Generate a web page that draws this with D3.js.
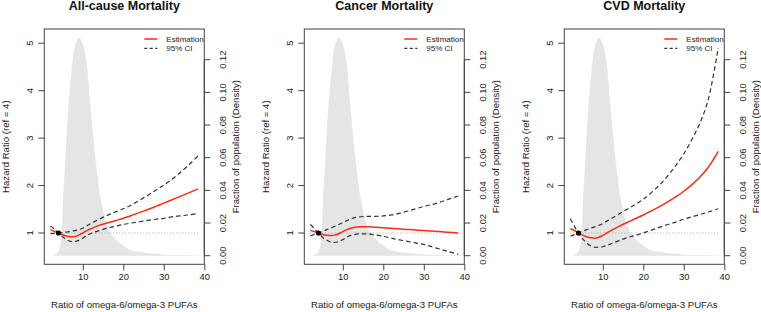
<!DOCTYPE html>
<html>
<head>
<meta charset="utf-8">
<script src="https://cdn.jsdelivr.net/npm/d3@7"></script>
<style>
  html, body { margin: 0; padding: 0; background: #fff; }
  svg { display: block; }
</style>
</head>
<body>
<svg id="chart"></svg>
<script>
// x positions (omega-6/omega-3 ratio) at which curves were read
const ratioX = [2, 3, 4, 5, 6, 7, 8, 9, 10, 11, 12, 14, 16, 18, 20, 22, 25, 28, 30, 32, 34, 36, 38.5];

const panelTitles = ["All-cause Mortality", "Cancer Mortality", "CVD Mortality"];

// All-cause
const allEst   = [1.065, 1.035, 1.0, 0.965, 0.935, 0.92, 0.925, 0.955, 1.0, 1.05, 1.09, 1.16, 1.21, 1.26, 1.31, 1.37, 1.46, 1.56, 1.63, 1.70, 1.77, 1.84, 1.93];
const allUpper = [0.985, 0.99, 1.0, 1.01, 1.02, 1.035, 1.05, 1.07, 1.10, 1.15, 1.20, 1.29, 1.37, 1.44, 1.51, 1.59, 1.74, 1.90, 2.01, 2.13, 2.27, 2.42, 2.63];
const allLower = [1.15, 1.08, 1.0, 0.92, 0.86, 0.825, 0.82, 0.845, 0.89, 0.95, 0.99, 1.05, 1.10, 1.14, 1.18, 1.21, 1.25, 1.29, 1.31, 1.34, 1.36, 1.38, 1.41];

// Cancer
const canEst   = [1.055, 1.03, 1.0, 0.97, 0.95, 0.945, 0.955, 0.985, 1.03, 1.07, 1.10, 1.13, 1.13, 1.12, 1.11, 1.10, 1.08, 1.065, 1.05, 1.04, 1.03, 1.015, 1.0];
const canUpper = [0.94, 0.97, 1.0, 1.035, 1.07, 1.10, 1.14, 1.18, 1.22, 1.26, 1.30, 1.34, 1.35, 1.35, 1.36, 1.38, 1.44, 1.51, 1.56, 1.60, 1.65, 1.71, 1.78];
const canLower = [1.18, 1.09, 1.0, 0.91, 0.85, 0.81, 0.80, 0.82, 0.86, 0.91, 0.95, 0.98, 0.98, 0.96, 0.93, 0.89, 0.84, 0.79, 0.76, 0.71, 0.66, 0.61, 0.55];

// CVD
const cvdEst   = [1.09, 1.05, 1.0, 0.955, 0.92, 0.90, 0.89, 0.91, 0.95, 1.0, 1.05, 1.14, 1.22, 1.30, 1.38, 1.465, 1.605, 1.76, 1.88, 2.02, 2.18, 2.38, 2.72];
const cvdUpper = [0.93, 0.965, 1.0, 1.035, 1.07, 1.10, 1.13, 1.16, 1.20, 1.25, 1.30, 1.40, 1.50, 1.60, 1.71, 1.85, 2.10, 2.42, 2.67, 2.97, 3.32, 3.80, 4.90];
const cvdLower = [1.30, 1.14, 1.0, 0.88, 0.79, 0.73, 0.70, 0.70, 0.71, 0.74, 0.77, 0.84, 0.90, 0.95, 1.00, 1.06, 1.15, 1.23, 1.29, 1.34, 1.39, 1.44, 1.51];

// population density of the ratio (same in every panel)
const densX = [2, 3, 4, 4.8, 5.1, 5.6, 6.4, 7.3, 8.1, 9.1, 10.1, 11, 11.8, 12.6, 13.4, 14.25, 15.5, 16.7, 18.4, 20, 21.7, 24, 26.6, 30, 34, 38.5];
const densY = [0.0, 0.0005, 0.0025, 0.015, 0.034, 0.0555, 0.090, 0.1147, 0.129, 0.1335, 0.129, 0.1168, 0.094, 0.0719, 0.0535, 0.0372, 0.0229, 0.0147, 0.0095, 0.0062, 0.0035, 0.0022, 0.0015, 0.0008, 0.0004, 0.0002];

const xTicks = [10, 20, 30, 40];
const hrTicks = [1, 2, 3, 4, 5];
const densTicks = [0, 0.02, 0.04, 0.06, 0.08, 0.10, 0.12];
const refX = 4, refHR = 1;

const series = [
  { est: allEst, upper: allUpper, lower: allLower },
  { est: canEst, upper: canUpper, lower: canLower },
  { est: cvdEst, upper: cvdUpper, lower: cvdLower }
];

const W = 761, H = 312;
const FONT = "'Liberation Sans', Arial, Helvetica, sans-serif";
const TXT = "#222";
const AX = "#444";

const svg = d3.select("#chart").attr("width", W).attr("height", H);
svg.append("rect").attr("width", W).attr("height", H).attr("fill", "#fff");

const boxW = 160, boxTop = 29, boxBot = 264.3;

series.forEach((s, i) => {
  const left = 44.3 + 260 * i;
  const right = left + boxW;

  const x = d3.scaleLinear().domain([0.5, 40]).range([left, right]);
  const y = d3.scaleLinear().domain([0.34, 5.30]).range([boxBot, boxTop]);
  const yD = d3.scaleLinear().domain([0, 0.12]).range([255.7, 59.7]);

  const g = svg.append("g");

  // density
  const dens = densX.map((v, k) => ({ x: v, d: densY[k] }));
  g.append("path")
    .datum(dens)
    .attr("fill", "#e5e5e5")
    .attr("d", d3.area()
      .x(d => x(d.x))
      .y0(yD(0))
      .y1(d => yD(d.d))
      .curve(d3.curveCatmullRom.alpha(0.5)));

  // reference line
  g.append("line")
    .attr("x1", x(ratioX[0])).attr("x2", x(ratioX[ratioX.length - 1]))
    .attr("y1", y(refHR)).attr("y2", y(refHR))
    .attr("stroke", "#aaa").attr("stroke-width", 1.2)
    .attr("stroke-dasharray", "1,2");

  const line = d3.line()
    .x(d => x(d[0])).y(d => y(d[1]))
    .curve(d3.curveCatmullRom.alpha(0.5));

  [s.upper, s.lower].forEach(arr => {
    g.append("path")
      .datum(ratioX.map((v, k) => [v, arr[k]]))
      .attr("fill", "none")
      .attr("stroke", "#333").attr("stroke-width", 1.2)
      .attr("stroke-dasharray", "4.5,3")
      .attr("d", line);
  });

  g.append("path")
    .datum(ratioX.map((v, k) => [v, s.est[k]]))
    .attr("fill", "none")
    .attr("stroke", "#ff2a12").attr("stroke-width", 1.5)
    .attr("d", line);

  g.append("circle")
    .attr("cx", x(refX)).attr("cy", y(refHR)).attr("r", 2.6)
    .attr("fill", "#000");

  // box
  g.append("rect")
    .attr("x", left).attr("y", boxTop)
    .attr("width", boxW).attr("height", boxBot - boxTop)
    .attr("fill", "none").attr("stroke", AX).attr("stroke-width", 1);

  // bottom axis
  g.append("g")
    .attr("transform", `translate(0,${boxBot})`)
    .call(d3.axisBottom(x).tickValues(xTicks).tickSize(6).tickPadding(3).tickFormat(d3.format("d")))
    .call(ax => {
      ax.select(".domain").remove();
      ax.selectAll(".tick line").attr("stroke", AX);
      ax.selectAll(".tick text").attr("fill", TXT).style("font-size", "9.4px").style("font-family", FONT);
    });

  // left axis (rotated labels)
  const la = g.append("g");
  la.selectAll("line").data(hrTicks).join("line")
    .attr("x1", left - 6).attr("x2", left)
    .attr("y1", d => y(d)).attr("y2", d => y(d))
    .attr("stroke", AX);
  la.selectAll("text").data(hrTicks).join("text")
    .attr("transform", d => `translate(${left - 15},${y(d)}) rotate(-90)`)
    .attr("text-anchor", "middle").attr("dy", "0.35em")
    .attr("fill", TXT).style("font-size", "9.4px").style("font-family", FONT)
    .text(d => d);

  // right axis (density)
  const ra = g.append("g");
  ra.append("line")
    .attr("x1", right).attr("x2", right)
    .attr("y1", yD(0)).attr("y2", yD(0.12))
    .attr("stroke", AX);
  ra.selectAll("line.t").data(densTicks).join("line").attr("class", "t")
    .attr("x1", right).attr("x2", right + 6)
    .attr("y1", d => yD(d)).attr("y2", d => yD(d))
    .attr("stroke", AX);
  ra.selectAll("text").data(densTicks).join("text")
    .attr("transform", d => `translate(${right + 18.4},${yD(d)}) rotate(-90)`)
    .attr("text-anchor", "middle").attr("dy", "0.35em")
    .attr("fill", TXT).style("font-size", "9.4px").style("font-family", FONT)
    .text(d => d3.format(".2f")(d));

  // titles
  const cx = (left + right) / 2;
  const cy = (boxTop + boxBot) / 2;
  svg.append("text")
    .attr("x", cx).attr("y", 10)
    .attr("text-anchor", "middle")
    .attr("fill", "#111")
    .style("font-size", "12.5px").style("font-weight", "bold").style("font-family", FONT)
    .text(panelTitles[i]);

  svg.append("text")
    .attr("x", cx).attr("y", 305).attr("dy", "0.35em")
    .attr("text-anchor", "middle")
    .attr("fill", TXT).style("font-size", "9.6px").style("font-family", FONT)
    .text("Ratio of omega-6/omega-3 PUFAs");

  svg.append("text")
    .attr("transform", `translate(${left - 38.5},${cy}) rotate(-90)`)
    .attr("text-anchor", "middle").attr("dy", "0.35em")
    .attr("fill", TXT).style("font-size", "9.6px").style("font-family", FONT)
    .text("Hazard Ratio (ref = 4)");

  svg.append("text")
    .attr("transform", `translate(${right + 31.7},${cy}) rotate(-90)`)
    .attr("text-anchor", "middle").attr("dy", "0.35em")
    .attr("fill", TXT).style("font-size", "9.6px").style("font-family", FONT)
    .text("Fraction of population (Density)");

  // legend
  const lg = g.append("g");
  lg.append("line")
    .attr("x1", right - 60).attr("x2", right - 47)
    .attr("y1", 39).attr("y2", 39)
    .attr("stroke", "#ff2a12").attr("stroke-width", 1.5);
  lg.append("line")
    .attr("x1", right - 60).attr("x2", right - 47)
    .attr("y1", 48.3).attr("y2", 48.3)
    .attr("stroke", "#333").attr("stroke-width", 1.2)
    .attr("stroke-dasharray", "3,2.5");
  lg.append("text")
    .attr("x", right - 38).attr("y", 39).attr("dy", "0.35em")
    .attr("fill", TXT).style("font-size", "8px").style("font-family", FONT)
    .text("Estimation");
  lg.append("text")
    .attr("x", right - 38).attr("y", 48.3).attr("dy", "0.35em")
    .attr("fill", TXT).style("font-size", "8px").style("font-family", FONT)
    .text("95% CI");
});
</script>
</body>
</html>
